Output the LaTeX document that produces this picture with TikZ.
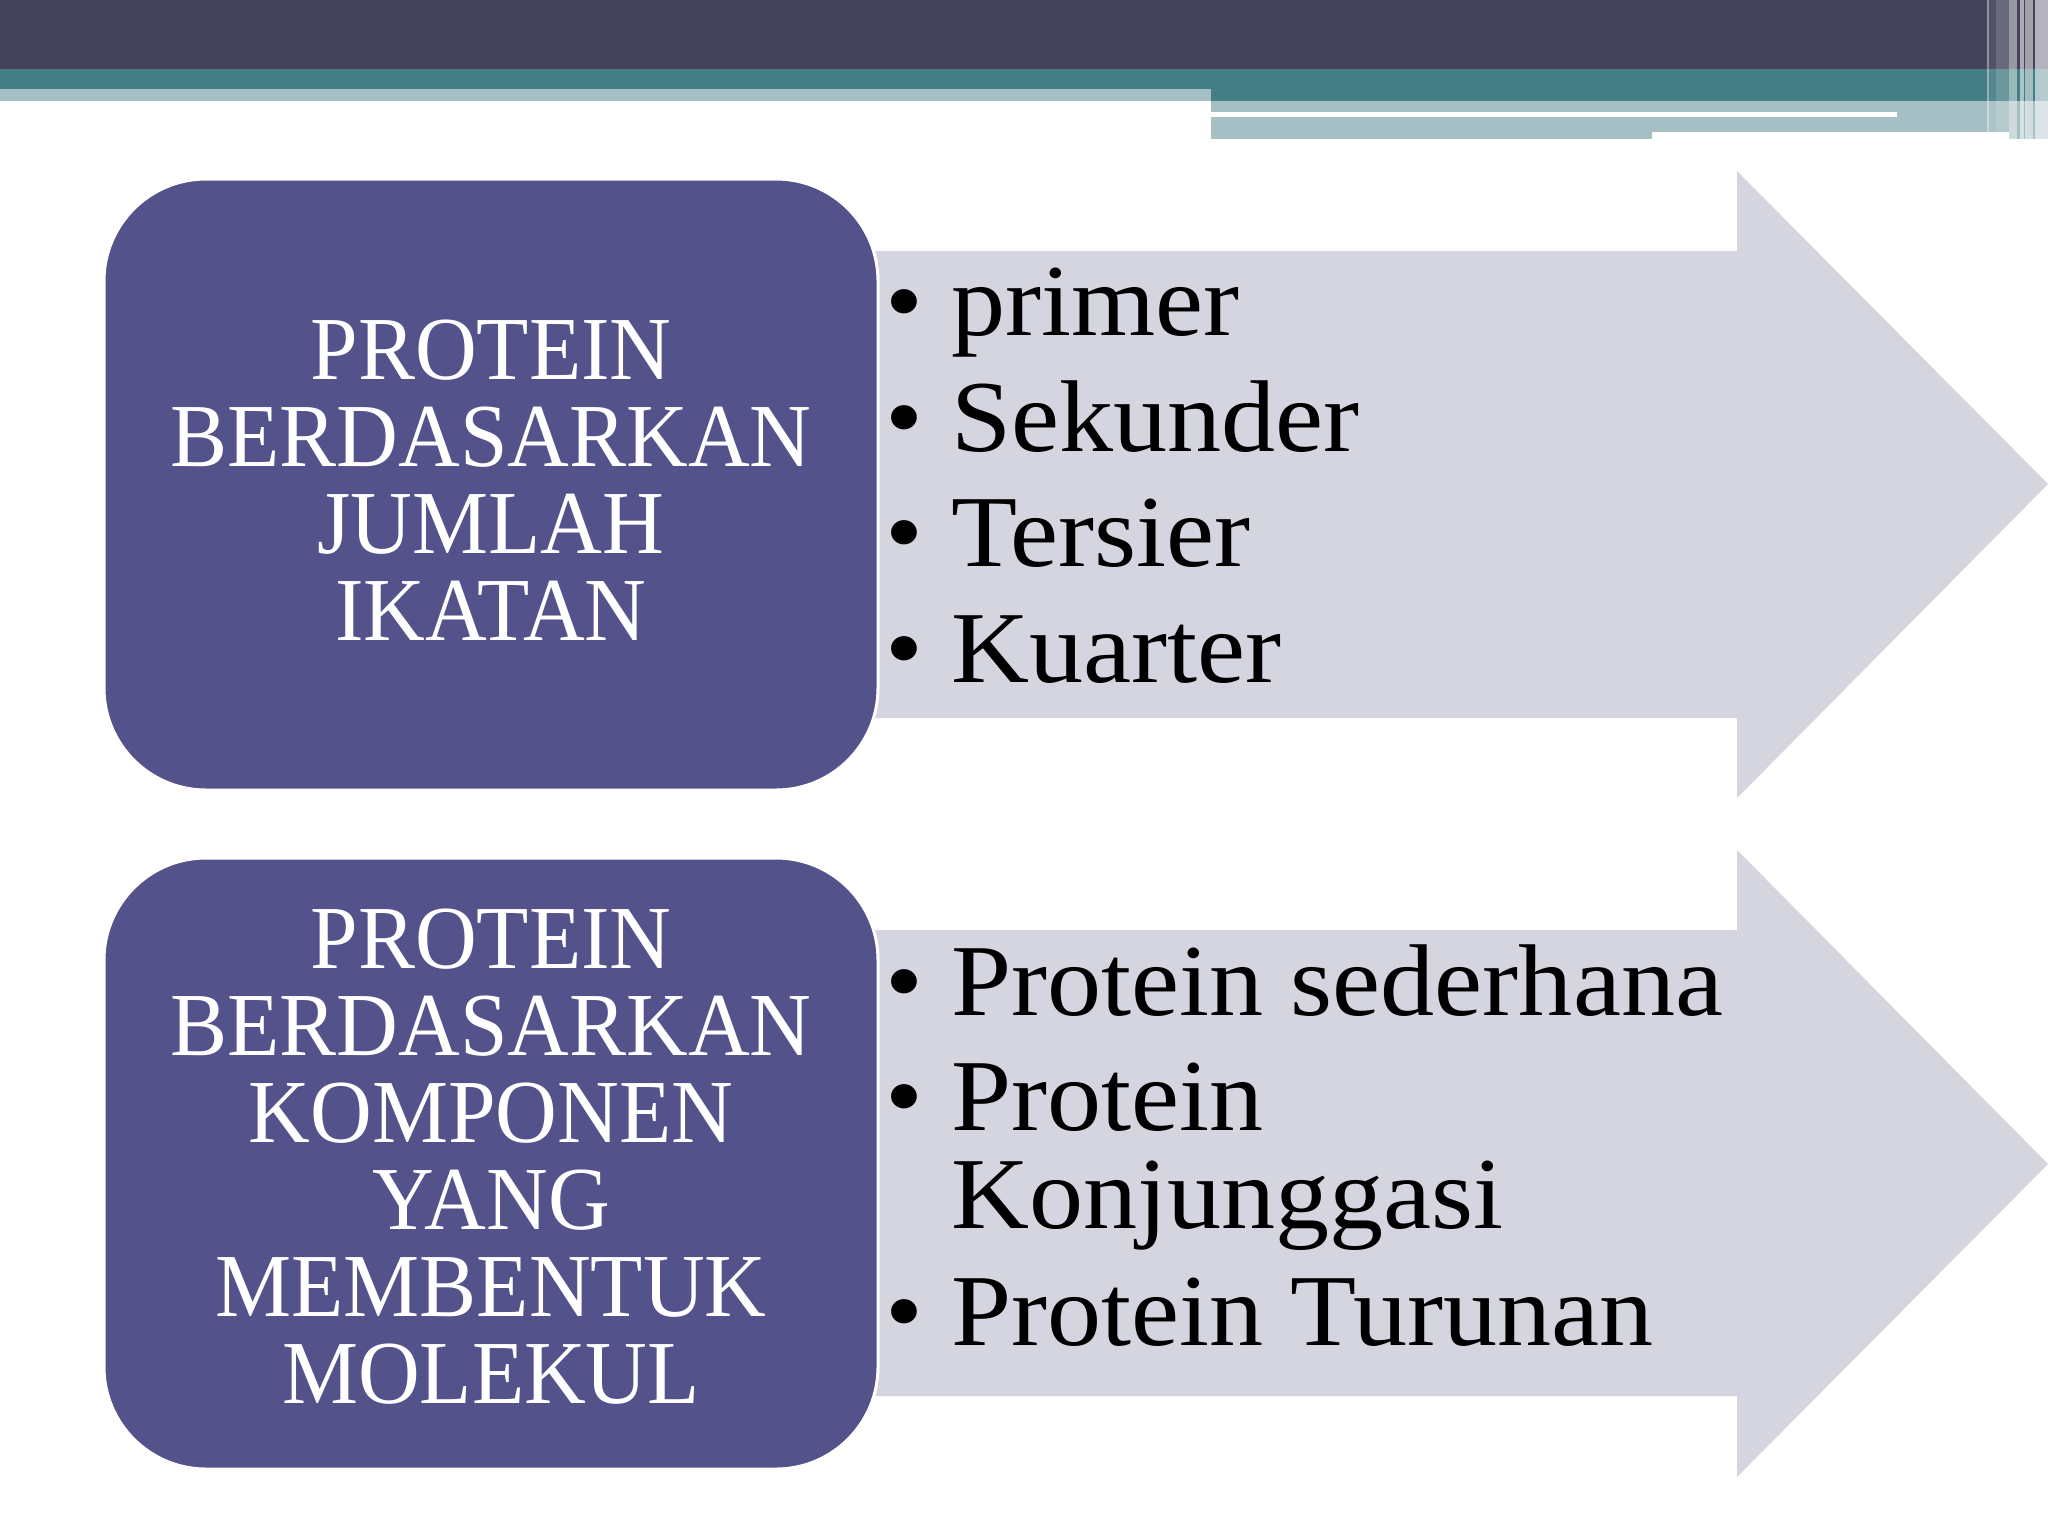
\documentclass[tikz,border=0pt]{standalone}
\usepackage{fontspec}
\setmainfont{Liberation Serif}
\newfontfamily\boxfont{Liberation Serif}[FakeStretch=0.95]
\newfontfamily\listfont{Liberation Serif}[FakeStretch=1.06]
\definecolor{darkband}{HTML}{45435A}
\definecolor{tealband}{HTML}{467E85}
\definecolor{lightband}{HTML}{A5BFC4}
\definecolor{boxfill}{HTML}{53528A}
\definecolor{arrowfill}{HTML}{D5D5DF}
\begin{document}
\begin{tikzpicture}[x=0.5pt,y=-0.5pt,
  probox/.style={rounded corners=51pt, fill=boxfill, draw=white, line width=1.5pt,
    minimum width=387pt, minimum height=305.5pt, inner sep=0pt},
  boxtext/.style={text=white, align=center, inner sep=0pt,
    font=\boxfont\fontsize{45pt}{43.5pt}\selectfont},
  listtext/.style={text=black, inner sep=0pt, anchor=base west,
    font=\listfont\fontsize{51pt}{57pt}\selectfont},
  bulletmark/.style={text=black, inner sep=0pt, anchor=base,
    font=\listfont\fontsize{51pt}{57pt}\selectfont},
  arrowshape/.style={fill=arrowfill, draw=none},
  stripe/.style={fill=white, draw=none}]
% background and bounding box
\fill[white] (0,0) rectangle (2048,1536);
\useasboundingbox (0,0) rectangle (2048,1536);
% top bands
\fill[darkband] (0,0) rectangle (2048,69);
\fill[tealband] (0,69) rectangle (2048,101);
\fill[lightband] (0,89) rectangle (1211,101);
\fill[lightband] (1211,101) rectangle (2048,132);
\fill[lightband] (1211,132) rectangle (1652,139);
\fill[lightband] (2009,132) rectangle (2048,139);
\fill[white] (1211,112) rectangle (1897,117);
% vertical stripes at right
\fill[stripe, opacity=0.4] (1987,0) rectangle (1989,132);
\fill[stripe, opacity=0.08] (1989,0) rectangle (1996,132);
\fill[stripe, opacity=0.2] (1996,0) rectangle (2009,132);
\fill[stripe, opacity=0.45] (2009,0) rectangle (2017,139);
\fill[stripe, opacity=0.55] (2020,0) rectangle (2024,139);
\fill[stripe, opacity=0.5] (2025,0) rectangle (2033,139);
\fill[stripe, opacity=0.6] (2035,0) rectangle (2048,139);
% arrows
\coordinate (a1s) at (820,484);
\coordinate (a1t) at (2048,484);
\fill[arrowshape] (820,251) -- (1737,251) -- (1737,171) -- (a1t) -- (1737,798) -- (1737,718) -- (820,718) -- cycle;
\coordinate (a2s) at (820,1164);
\coordinate (a2t) at (2048,1164);
\fill[arrowshape] (820,930) -- (1737,930) -- (1737,850) -- (a2t) -- (1737,1477) -- (1737,1396) -- (820,1396) -- cycle;
% boxes
\node[probox] (box1) at (491,484.5) {};
\node[probox] (box2) at (491,1163.5) {};
\node[boxtext] (t1) at (491,480) {PROTEIN\\BERDASARKAN\\JUMLAH\\IKATAN};
\node[boxtext] (t2) at (491,1157) {PROTEIN\\BERDASARKAN\\KOMPONEN\\YANG\\MEMBENTUK\\MOLEKUL};
% list 1
\node[bulletmark] (b11) at (904,335) {•};
\node[listtext] (l11) at (951,335) {primer};
\node[bulletmark] (b12) at (904,451) {•};
\node[listtext] (l12) at (951,451) {Sekunder};
\node[bulletmark] (b13) at (904,566) {•};
\node[listtext] (l13) at (951,566) {Tersier};
\node[bulletmark] (b14) at (904,682) {•};
\node[listtext] (l14) at (951,682) {Kuarter};
% list 2
\node[bulletmark] (b21) at (904,1015) {•};
\node[listtext] (l21) at (951,1015) {Protein sederhana};
\node[bulletmark] (b22) at (904,1130) {•};
\node[listtext] (l22) at (951,1130) {Protein};
\node[listtext] (l23) at (951,1228) {Konjunggasi};
\node[bulletmark] (b24) at (904,1345) {•};
\node[listtext] (l24) at (951,1345) {Protein Turunan};
\end{tikzpicture}
\end{document}
